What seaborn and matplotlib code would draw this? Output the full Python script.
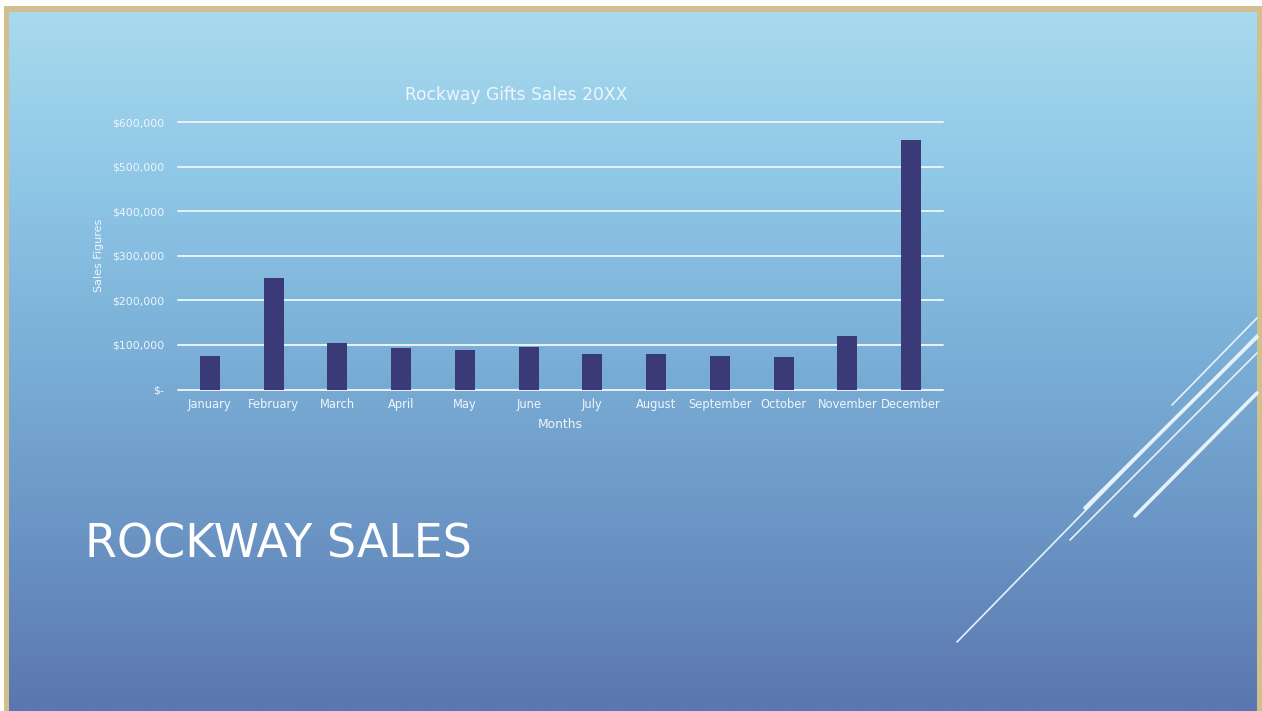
import numpy as np
import pandas as pd
import matplotlib
matplotlib.use("Agg")
import matplotlib.pyplot as plt
from matplotlib.patches import Rectangle
from matplotlib.lines import Line2D
from matplotlib.colors import LinearSegmentedColormap
import seaborn as sns

months = ["January", "February", "March", "April", "May", "June", "July",
          "August", "September", "October", "November", "December"]
sales = [75000, 250000, 105000, 93000, 88000, 95000, 80000, 80000, 76000, 74000, 119000, 560000]
ytick_values = [0, 100000, 200000, 300000, 400000, 500000, 600000]
ytick_labels = ["$-", "$100,000", "$200,000", "$300,000", "$400,000", "$500,000", "$600,000"]

sns.set_theme(style="white")
plt.rcParams['font.family'] = ['DejaVu Sans']

W, H = 1262, 711
fig = plt.figure(figsize=(W / 100, H / 100), dpi=100, facecolor="white")

def fx(px):
    return px / W

def fy(py):
    return 1 - py / H

# tan frame
fig.patches.append(Rectangle((fx(4), 0), fx(W) - fx(4), fy(6), transform=fig.transFigure,
                             facecolor="#d2bf8e", edgecolor="none", zorder=-10))

# gradient background
bg = fig.add_axes([fx(9), 0, fx(1257) - fx(9), fy(12)])
bg.set_zorder(-5)
cmap = LinearSegmentedColormap.from_list("bg", ["#a8daee", "#8ec6e6", "#7aaed6", "#6a94c4", "#5b76b0"])
grad = np.linspace(0, 1, 256).reshape(-1, 1)
bg.imshow(grad, aspect="auto", cmap=cmap, extent=[0, 1, 0, 1], origin="upper")
bg.set_axis_off()

# chart
ax = fig.add_axes([fx(178), fy(389.5), fx(943) - fx(178), (389.5 - 122) / H])
ax.patch.set_alpha(0)
df = pd.DataFrame({"Month": months, "Sales": sales})
sns.barplot(data=df, x="Month", y="Sales", ax=ax, color="#3a3a78", saturation=1, width=0.31,
            linewidth=0, zorder=3)
ax.set_ylim(0, 600000)
ax.set_yticks(ytick_values)
ax.set_yticklabels(ytick_labels)
for v in ytick_values:
    ax.axhline(v, color="#e8f3fa", lw=1.4, zorder=1, clip_on=False)
for s in ax.spines.values():
    s.set_visible(False)
ax.tick_params(axis="both", length=0, colors="#eef6fb")
ax.tick_params(axis="x", pad=6, labelsize=8.3)
ax.tick_params(axis="y", pad=10, labelsize=7.8)
ax.set_xlabel("Months", color="#eef6fb", fontsize=8.8, labelpad=5)
ax.set_ylabel("Sales Figures", color="#eef6fb", fontsize=8, labelpad=6)
ax.set_title("Rockway Gifts Sales 20XX", color="#eef6fb", fontsize=12.3, pad=16,
             x=(516 - 178) / (943 - 178))

# slide title
fig.text(fx(85), fy(545), "ROCKWAY SALES", color="white", fontsize=33, va="center", ha="left")

# decorative lines
segs = [((957, 642), (1257, 335), 1.2),
        ((1085, 508), (1257, 337), 2.6),
        ((1070, 540), (1257, 353), 1.2),
        ((1172, 405), (1257, 318), 1.2),
        ((1135, 516), (1257, 393), 2.6)]
for (x0, y0), (x1, y1), lw in segs:
    fig.add_artist(Line2D([fx(x0), fx(x1)], [fy(y0), fy(y1)], transform=fig.transFigure,
                          color="#e6f2fa", lw=lw, solid_capstyle="round"))

fig.savefig("out.png", dpi=100, facecolor="white")
